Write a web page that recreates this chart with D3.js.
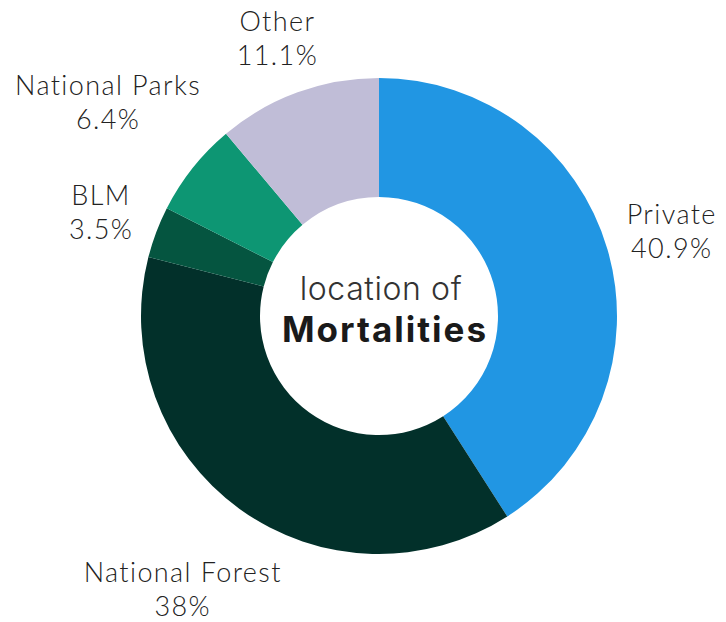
<!DOCTYPE html>
<html><head><meta charset="utf-8">
<script src="https://cdn.jsdelivr.net/npm/d3@7"></script>
<style>html,body{margin:0;padding:0;background:#fff;}</style>
</head><body>
<svg id="chart" width="726" height="622"></svg>
<script>
const categories = ["Private", "National Forest", "BLM", "National Parks", "Other"];
const values = [40.9, 38, 3.5, 6.4, 11.1];
const valueLabels = ["40.9%", "38%", "3.5%", "6.4%", "11.1%"];
const colors = ["#2196e3", "#02302a", "#055540", "#0d9673", "#c0bdd7"];
const labelRadius = [305, 335, 297, 346, 297];

const svg = d3.select("#chart");
const cx = 379, cy = 316, rOuter = 238, rInner = 119;
const g = svg.append("g").attr("transform", `translate(${cx},${cy})`);

const data = categories.map((c, i) => ({name: c, value: values[i], label: valueLabels[i], color: colors[i], lr: labelRadius[i]}));
const pie = d3.pie().value(d => d.value).sort(null).startAngle(0).endAngle(2 * Math.PI);
const arc = d3.arc().innerRadius(rInner).outerRadius(rOuter);
const arcs = pie(data);

g.selectAll("path").data(arcs).join("path")
  .attr("d", arc).attr("fill", d => d.data.color);

const lab = g.selectAll("g.lab").data(arcs).join("g").attr("class", "lab")
  .attr("transform", d => {
    const a = (d.startAngle + d.endAngle) / 2;
    return `translate(${Math.sin(a) * d.data.lr},${-Math.cos(a) * d.data.lr})`;
  });
function styleLabel(sel) {
  sel.attr("text-anchor", "middle")
    .style("font-family", "Lato, sans-serif").style("font-size", "27px").style("font-weight", 300)
    .style("letter-spacing", "1.4px").attr("fill", "#222");
}
lab.append("text").attr("y", -6).call(styleLabel).text(d => d.data.name);
lab.append("text").attr("y", 28).call(styleLabel).text(d => d.data.label);

g.append("text").attr("text-anchor", "middle").attr("x", 2).attr("y", -16)
  .style("font-family", "Inter, sans-serif").style("font-size", "32px").style("font-weight", 300)
  .style("letter-spacing", "0.6px").attr("fill", "#333")
  .text("location of");
g.append("text").attr("text-anchor", "middle").attr("x", 6).attr("y", 26)
  .style("font-family", "Inter, sans-serif").style("font-size", "35px").style("font-weight", 700)
  .style("letter-spacing", "2px").attr("fill", "#1a1a1a")
  .text("Mortalities");
</script>
</body></html>
